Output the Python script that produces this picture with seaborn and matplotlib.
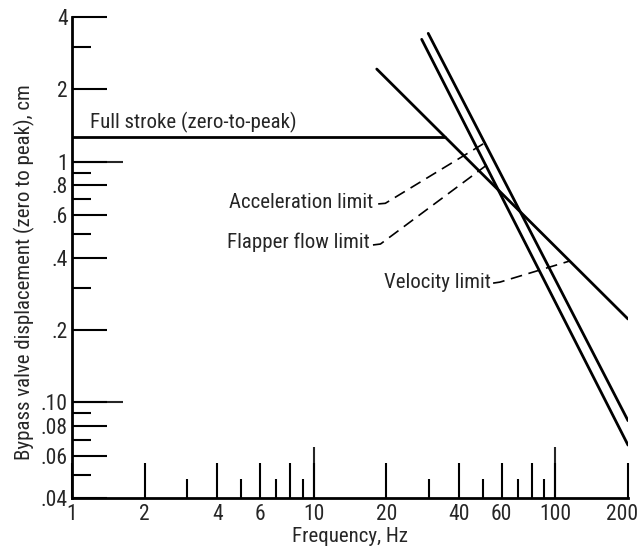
import matplotlib
matplotlib.use("Agg")
import matplotlib.pyplot as plt
import matplotlib.font_manager as fm
import matplotlib.transforms as mtransforms
from matplotlib.ticker import FixedLocator, FixedFormatter, NullFormatter
import seaborn as sns
import pandas as pd

# ---------------- data ----------------
full_stroke_f = [1.0, 35.0]
full_stroke_d = [1.27, 1.27]

velocity_f = [18.25, 200.0]
velocity_d = [2.43, 0.222]

accel_f = [29.8, 200.0]
accel_d = [3.42, 0.0839]

flapper_f = [28.0, 200.0]
flapper_d = [3.23, 0.0664]

x_major = [1, 2, 4, 6, 8, 10, 20, 40, 60, 80, 100, 200]
x_major_labels = ["1", "2", "4", "6", "", "10", "20", "40", "60", "", "100", "200"]
x_minor = [3, 5, 7, 9, 30, 50, 70, 90]
x_long = [10, 100]

y_major = [0.04, 0.06, 0.08, 0.10, 0.2, 0.4, 0.6, 0.8, 1, 2, 4]
y_major_labels = [".04", ".06", ".08", ".10", ".2", ".4", ".6", ".8", "1", "2", "4"]
y_minor = [0.05, 0.07, 0.09, 0.3, 0.5, 0.7, 0.9, 3]
y_long = [0.1, 1]

# ---------------- font ----------------
sns.set_style("white")
entries = fm.fontManager.ttflist
names = {f.name for f in entries}
stretch = "normal"
if "Liberation Sans Narrow" in names:
    fam = "Liberation Sans Narrow"
elif "Roboto Condensed" in names:
    fam = "Roboto Condensed"
elif any(f.name == "DejaVu Sans" and str(f.stretch) in ("condensed", "semi-condensed") for f in entries):
    fam = "DejaVu Sans"
    stretch = "condensed"
else:
    fam = "DejaVu Sans"
plt.rcParams["font.family"] = [fam, "DejaVu Sans"]
plt.rcParams["font.stretch"] = stretch

TXT = 15
TICK = 15.5

fig = plt.figure(figsize=(6.41, 5.5), dpi=100)
ax = fig.add_axes([72 / 641, 52 / 550, 556 / 641, 481 / 550])

rows = []
for name, fs, ds in [("full", full_stroke_f, full_stroke_d),
                     ("velocity", velocity_f, velocity_d),
                     ("accel", accel_f, accel_d),
                     ("flapper", flapper_f, flapper_d)]:
    for f, d in zip(fs, ds):
        rows.append({"series": name, "f": f, "d": d})
df = pd.DataFrame(rows)

sns.lineplot(data=df, x="f", y="d", units="series", estimator=None,
             color="black", linewidth=2.0, ax=ax, legend=False)

ax.set_xscale("log")
ax.set_yscale("log")
ax.set_xlim(1, 200)
ax.set_ylim(0.04, 4)
ax.set_xlabel("")
ax.set_ylabel("")

for s in ["top", "right"]:
    ax.spines[s].set_visible(False)
for s in ["left", "bottom"]:
    ax.spines[s].set_linewidth(2.0)
    ax.spines[s].set_color("black")

ax.xaxis.set_major_locator(FixedLocator(x_major))
ax.xaxis.set_major_formatter(FixedFormatter(x_major_labels))
ax.xaxis.set_minor_locator(FixedLocator(x_minor))
ax.xaxis.set_minor_formatter(NullFormatter())
ax.yaxis.set_major_locator(FixedLocator(y_major))
ax.yaxis.set_major_formatter(FixedFormatter(y_major_labels))
ax.yaxis.set_minor_locator(FixedLocator(y_minor))
ax.yaxis.set_minor_formatter(NullFormatter())

ax.tick_params(which="both", bottom=True, left=True, top=False, right=False)
ax.tick_params(which="major", direction="in", length=25, width=1.5, color="black",
               labelsize=TICK)
ax.tick_params(which="minor", direction="in", length=14, width=1.5, color="black")
ax.tick_params(axis="y", which="major", pad=3)
ax.tick_params(axis="x", which="major", pad=4)

# keep the last x label inside the canvas
last = ax.get_xticklabels()[-1]
last.set_transform(last.get_transform() +
                   mtransforms.ScaledTranslation(-6 / 100, 0, fig.dpi_scale_trans))

# longer ticks at decades
secx = ax.secondary_xaxis("bottom")
secx.set_xticks(x_long)
secx.xaxis.set_minor_locator(FixedLocator([]))
secx.tick_params(which="major", bottom=True, direction="in", length=37, width=1.5,
                 labelbottom=False)
secx.spines["bottom"].set_visible(False)
secy = ax.secondary_yaxis("left")
secy.set_yticks(y_long)
secy.yaxis.set_minor_locator(FixedLocator([]))
secy.tick_params(which="major", left=True, direction="in", length=37, width=1.5,
                 labelleft=False)
secy.spines["left"].set_visible(False)

# labels
ax.text(1.187, 1.38, "Full stroke (zero-to-peak)", fontsize=TXT, va="baseline", ha="left")
ax.text(17.6, 0.643, "Acceleration limit", fontsize=TXT, va="baseline", ha="right")
ax.text(17.0, 0.438, "Flapper flow limit", fontsize=TXT, va="baseline", ha="right")
ax.text(54.0, 0.299, "Velocity limit", fontsize=TXT, va="baseline", ha="right")

# dashed leaders
leaders = [
    ([18.5, 19.8, 51.2], [0.668, 0.672, 1.20]),
    ([17.6, 18.9, 52.1], [0.451, 0.455, 0.97]),
    ([55.3, 59.0, 114.0], [0.313, 0.316, 0.386]),
]
for lf, ld in leaders:
    ax.plot(lf, ld, color="black", linewidth=1.2, linestyle=(0, (7, 4)))

fig.text(24 / 641, (550 - 272) / 550, "Bypass valve displacement (zero to peak), cm",
         rotation=90, va="center", ha="center", fontsize=TXT)
fig.text(350 / 641, (550 - 537) / 550, "Frequency, Hz", va="center", ha="center", fontsize=TXT)

fig.savefig("out.png", dpi=100)
